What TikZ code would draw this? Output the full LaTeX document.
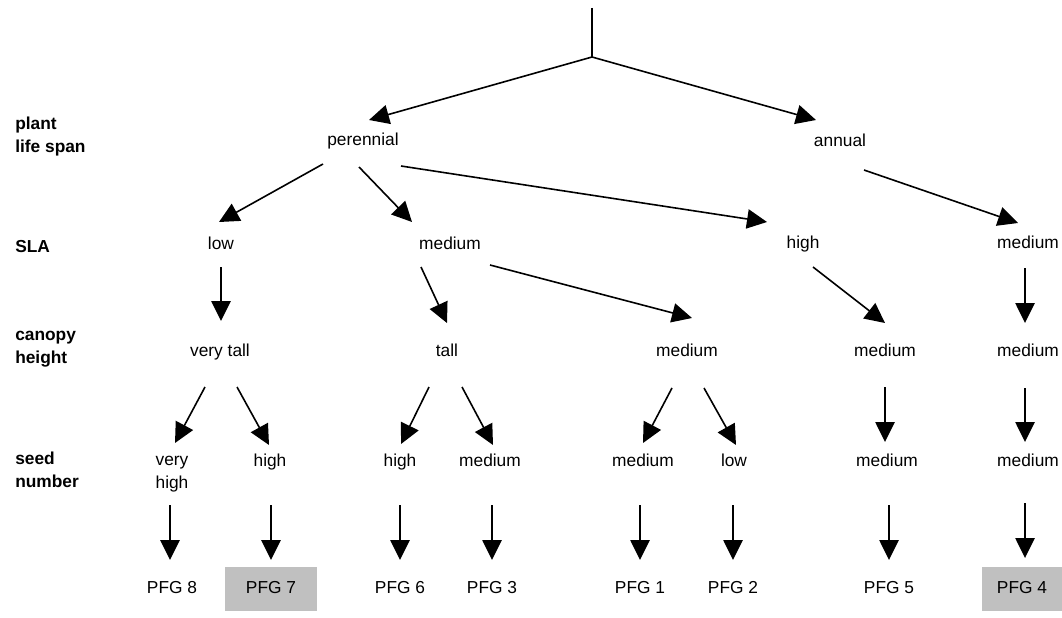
\documentclass[tikz,border=0pt]{standalone}
\usepackage{fontspec}
\setmainfont{Liberation Sans}
\usetikzlibrary{calc,arrows.meta}
\definecolor{boxgray}{HTML}{C0C0C0}
\tikzset{
    % Word nodes of the tree, the bold level labels on the left and the arrows
    word/.style={inner sep=0pt,text height=9.5pt,text depth=2.7pt},
    twoline/.style={inner sep=0pt,align=center},
    level label/.style={inner sep=0pt,anchor=west,align=left,font=\fontsize{13}{17.25}\selectfont\bfseries},
    pfg box/.style={word,fill=boxgray,minimum height=33pt},
    arr/.style={line width=1.2pt,-{Triangle[length=15pt,width=14.5pt]}}
    }

\begin{document}
\begin{tikzpicture}[x=0.75pt,y=-0.75pt,font=\fontsize{13}{17.25}\selectfont] % one unit is one pixel of the layout
        \useasboundingbox (0,0) rectangle (1062,617);
        % Level labels
        \node(lspan)[level label] at (15,137) {plant\\life span};
        \node(lsla)[level label] at (15,247) {SLA};
        \node(lcanopy)[level label] at (15,349) {canopy\\height};
        \node(lseed)[level label] at (15,470) {seed\\number};
        % The Tree
        \coordinate(top) at (592,8);
        \coordinate(fork) at (592,57);
        \node(per)[word] at (363,141) {perennial};
        \node(ann)[word] at (840,142) {annual};
        % SLA
        \node(lowsla)[word] at (221,245) {low};
        \node(medsla)[word] at (450,245) {medium};
        \node(highsla)[word] at (803,244) {high};
        \node(medsla2)[word] at (1028,244) {medium};
        % canopy height
        \node(vtall)[word] at (220,352) {very tall};
        \node(tall)[word] at (447,352) {tall};
        \node(medcan)[word] at (687,352) {medium};
        \node(medcan2)[word] at (885,352) {medium};
        \node(medcan3)[word] at (1028,352) {medium};
        % seed number
        \node(vhigh)[twoline] at (172,474) {very\\high};
        \node(highsd)[word] at (270,462) {high};
        \node(highsd2)[word] at (400,462) {high};
        \node(medsd)[word] at (490,462) {medium};
        \node(medsd2)[word] at (643,462) {medium};
        \node(lowsd)[word] at (734,462) {low};
        \node(medsd3)[word] at (887,462) {medium};
        \node(medsd4)[word] at (1028,462) {medium};
        % groups
        \node(pfg8)[word] at (172,589) {PFG 8};
        \node(pfg7)[pfg box,minimum width=69pt] at (271,589) {PFG 7};
        \node(pfg6)[word] at (400,589) {PFG 6};
        \node(pfg3)[word] at (492,589) {PFG 3};
        \node(pfg1)[word] at (640,589) {PFG 1};
        \node(pfg2)[word] at (733,589) {PFG 2};
        \node(pfg5)[word] at (889,589) {PFG 5};
        \node(pfg4)[pfg box,minimum width=60pt] at (1022,589) {PFG 4};
        % Arrows
        \draw[line width=1.2pt] (top) -- (fork);
        \draw[arr] (fork) -- ($(per)+(6,-21)$);
        \draw[arr] (fork) -- ($(ann)+(-24,-22)$);
        \draw[arr] ($(per)+(-40,23)$) -- ($(lowsla)+(-2,-23)$);
        \draw[arr] ($(per)+(-4,26)$) -- ($(medsla)+(-38,-23)$);
        \draw[arr] ($(per)+(38,25)$) -- ($(highsla)+(-36,-22)$);
        \draw[arr] ($(ann)+(24,28)$) -- ($(medsla2)+(-10,-21)$);
        \draw[arr] ($(lowsla)+(0,22)$) -- ($(vtall)+(1,-31)$);
        \draw[arr] ($(medsla)+(-29,22)$) -- ($(tall)+(0,-29)$);
        \draw[arr] ($(medsla)+(40,20)$) -- ($(medcan)+(5,-34)$);
        \draw[arr] ($(highsla)+(10,23)$) -- ($(medcan2)+(0,-29)$);
        \draw[arr] ($(medsla2)+(-3,24)$) -- ($(medcan3)+(-3,-29)$);
        \draw[arr] ($(vtall)+(-15,35)$) -- ($(vhigh)+(3,-31)$);
        \draw[arr] ($(vtall)+(17,35)$) -- ($(highsd)+(-1,-17)$);
        \draw[arr] ($(tall)+(-18,35)$) -- ($(highsd2)+(1,-18)$);
        \draw[arr] ($(tall)+(15,35)$) -- ($(medsd)+(3,-17)$);
        \draw[arr] ($(medcan)+(-15,36)$) -- ($(medsd2)+(0,-19)$);
        \draw[arr] ($(medcan)+(17,36)$) -- ($(lowsd)+(2,-17)$);
        \draw[arr] ($(medcan2)+(0,35)$) -- ($(medsd3)+(-2,-20)$);
        \draw[arr] ($(medcan3)+(-3,36)$) -- ($(medsd4)+(-3,-20)$);
        \draw[arr] ($(vhigh)+(-2,31)$) -- ($(pfg8)+(-2,-29)$);
        \draw[arr] ($(highsd)+(1,43)$) -- ($(pfg7)+(0,-29)$);
        \draw[arr] ($(highsd2)+(0,43)$) -- ($(pfg6)+(0,-29)$);
        \draw[arr] ($(medsd)+(2,43)$) -- ($(pfg3)+(0,-29)$);
        \draw[arr] ($(medsd2)+(-3,43)$) -- ($(pfg1)+(0,-29)$);
        \draw[arr] ($(lowsd)+(-1,43)$) -- ($(pfg2)+(0,-29)$);
        \draw[arr] ($(medsd3)+(2,43)$) -- ($(pfg5)+(0,-29)$);
        \draw[arr] ($(medsd4)+(-3,41)$) -- ($(pfg4)+(3,-31)$);
\end{tikzpicture}
\end{document}
